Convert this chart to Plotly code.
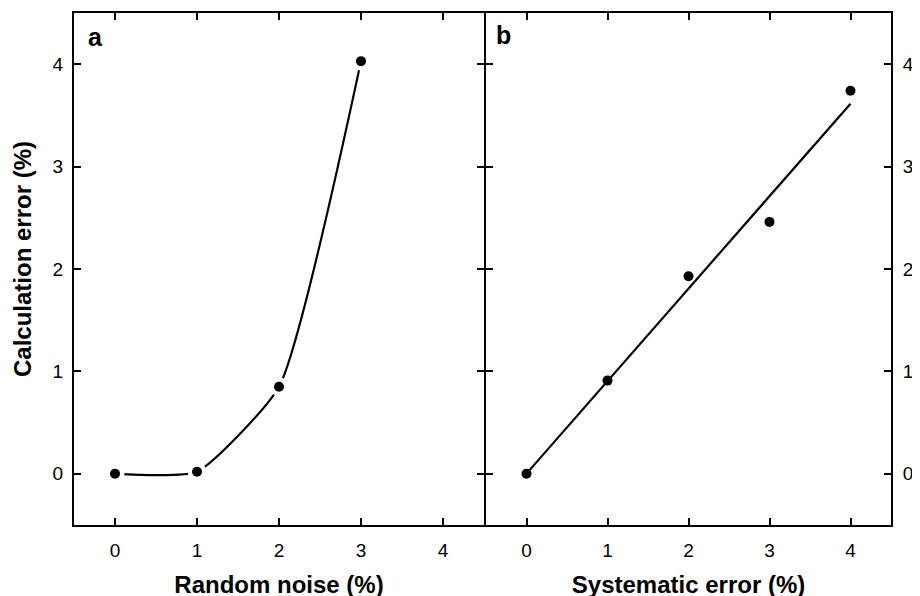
import numpy as np
import plotly.graph_objects as go

# ---- data ----
noise_pct = [0, 1, 2, 3]
noise_calc_err = [0.0, 0.02, 0.85, 4.03]

sys_pct = [0, 1, 2, 3, 4]
sys_calc_err = [0.0, 0.91, 1.93, 2.46, 3.74]

tick_vals = [0, 1, 2, 3, 4]
tick_text = ["0", "1", "2", "3", "4"]

panel_labels = ["a", "b"]
x_titles = ["Random noise (%)", "Systematic error (%)"]
y_title = "Calculation error (%)"

# linear regression line for panel b (from the data)
slope, intercept = np.polyfit(sys_pct, sys_calc_err, 1)
fit_x = [min(sys_pct), max(sys_pct)]
fit_y = [intercept + slope * v for v in fit_x]

FONT = "Liberation Sans, Arial, Helvetica, sans-serif"
BLACK = "#000000"

fig = go.Figure()

# panel a: smooth curve, with white halos around markers
fig.add_trace(go.Scatter(x=noise_pct, y=noise_calc_err, mode="lines",
                         line=dict(color=BLACK, width=2.2, shape="spline", smoothing=0.5),
                         xaxis="x", yaxis="y", showlegend=False, hoverinfo="skip"))
fig.add_trace(go.Scatter(x=noise_pct, y=noise_calc_err, mode="markers",
                         marker=dict(color="white", size=19),
                         xaxis="x", yaxis="y", showlegend=False, hoverinfo="skip"))
fig.add_trace(go.Scatter(x=noise_pct, y=noise_calc_err, mode="markers",
                         marker=dict(color=BLACK, size=10),
                         xaxis="x", yaxis="y", showlegend=False))

# panel b: regression line and points
fig.add_trace(go.Scatter(x=fit_x, y=fit_y, mode="lines",
                         line=dict(color=BLACK, width=2.2),
                         xaxis="x2", yaxis="y2", showlegend=False, hoverinfo="skip"))
fig.add_trace(go.Scatter(x=sys_pct, y=sys_calc_err, mode="markers",
                         marker=dict(color=BLACK, size=10),
                         xaxis="x2", yaxis="y2", showlegend=False))

common_axis = dict(
    range=[-0.5, 4.5],
    tickvals=tick_vals,
    ticktext=tick_text,
    ticks="inside",
    ticklen=7,
    tickwidth=2,
    tickcolor=BLACK,
    showline=True,
    linewidth=2,
    linecolor=BLACK,
    mirror="ticks",
    showgrid=False,
    zeroline=False,
    automargin=False,
    tickfont=dict(family=FONT, size=19, color=BLACK),
    fixedrange=True,
)

# the page body adds an 8px offset; margins are set so the plot area
# lands at the reference position
L, R, T, B = 66, 37, 5, 79
W, H = 920, 596
pw = W - L - R
ph = H - T - B
a_end = (476 - L) / pw
b_start = (478 - L) / pw

title_font = dict(family=FONT, size=24, color=BLACK, weight="bold")

fig.update_layout(
    width=W, height=H,
    margin=dict(l=L, r=R, t=T, b=B),
    paper_bgcolor="white",
    plot_bgcolor="white",
    xaxis=dict(domain=[0, a_end], anchor="y", ticklabelstandoff=7,
               title=dict(text=x_titles[0], standoff=16, font=title_font),
               **common_axis),
    yaxis=dict(domain=[0, 1], anchor="x", ticklabelstandoff=5,
               **common_axis),
    xaxis2=dict(domain=[b_start, 1], anchor="y2", ticklabelstandoff=7,
                title=dict(text=x_titles[1], standoff=16, font=title_font),
                **common_axis),
    yaxis2=dict(domain=[0, 1], anchor="x2", side="right", ticklabelstandoff=6,
                **common_axis),
    annotations=[
        dict(text=y_title, xref="paper", yref="paper",
             x=-(L - 14) / pw, y=1 - (259 - 8 - T) / ph,
             xanchor="center", yanchor="middle", textangle=-90, showarrow=False,
             font=title_font),
        dict(text=panel_labels[0], xref="x domain", yref="y domain", x=0.03, y=0.985,
             xanchor="left", yanchor="top", showarrow=False,
             font=dict(family=FONT, size=25, color=BLACK, weight="bold")),
        dict(text=panel_labels[1], xref="x2 domain", yref="y2 domain", x=0.02, y=0.988,
             xanchor="left", yanchor="top", showarrow=False,
             font=dict(family=FONT, size=25, color=BLACK, weight="bold")),
    ],
)

fig.write_html("out.html")
